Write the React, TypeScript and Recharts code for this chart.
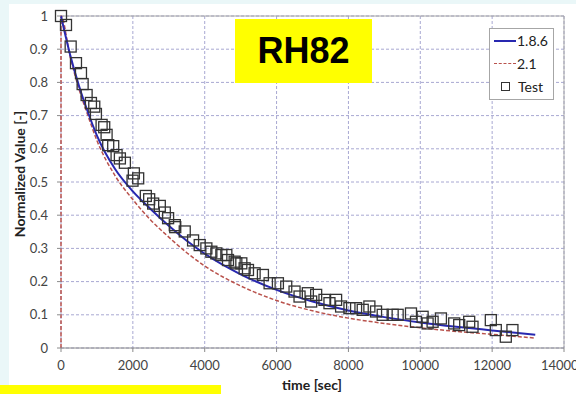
import { CartesianGrid, ComposedChart, Line, ReferenceLine, Scatter, XAxis, YAxis } from 'recharts';

const xTicks = [0, 2000, 4000, 6000, 8000, 10000, 12000, 14000];
const yTicks = [0, 0.1, 0.2, 0.3, 0.4, 0.5, 0.6, 0.7, 0.8, 0.9, 1];

const seriesNames = ['1.8.6', '2.1', 'Test'];

// model curves
const modelTime = [0, 250, 500, 750, 1000, 1500, 2000, 2500, 3000, 3500, 4000, 5000, 6000, 7000, 8000, 9000, 10000, 11000, 12000, 13200];
const v186 = [1.0, 0.885, 0.79, 0.71, 0.64, 0.54, 0.472, 0.418, 0.368, 0.323, 0.284, 0.222, 0.175, 0.14, 0.113, 0.093, 0.077, 0.064, 0.053, 0.04];
const v21 = [1.0, 0.88, 0.78, 0.7, 0.625, 0.52, 0.447, 0.385, 0.334, 0.287, 0.247, 0.187, 0.143, 0.112, 0.09, 0.074, 0.061, 0.05, 0.041, 0.03];

// test points
const testTime = [
  0, 139, 269, 417, 556, 602, 713, 833, 926, 972, 1130, 1203, 1269, 1314, 1453, 1547, 1639, 1778,
  1991, 2028, 2148, 2361, 2454, 2565, 2750, 2889, 2981, 3167, 3180, 3444, 3676, 3861, 4046, 4185,
  4324, 4463, 4602, 4648, 4833, 4880, 5019, 5111, 5204, 5389, 5620, 5806, 6037, 6269, 6500, 6639,
  6870, 6963, 7102, 7333, 7472, 7657, 7796, 8028, 8213, 8398, 8583, 8769, 8954, 9231, 9370, 9741,
  9880, 10065, 10204, 10343, 10574, 10944, 11083, 11361, 11454, 11963, 12102, 12380, 12565,
];
const testValue = [
  1.0, 0.973, 0.908, 0.858, 0.828, 0.795, 0.762, 0.738, 0.727, 0.705, 0.672, 0.665, 0.642, 0.611, 0.608, 0.581, 0.571, 0.558,
  0.504, 0.526, 0.511, 0.458, 0.448, 0.435, 0.428, 0.408, 0.391, 0.37, 0.364, 0.351, 0.324, 0.31, 0.3, 0.29,
  0.285, 0.28, 0.28, 0.265, 0.26, 0.255, 0.255, 0.24, 0.235, 0.225, 0.22, 0.195, 0.195, 0.185, 0.17, 0.155,
  0.165, 0.14, 0.16, 0.145, 0.135, 0.145, 0.125, 0.12, 0.12, 0.115, 0.125, 0.11, 0.1, 0.1, 0.1, 0.104,
  0.079, 0.094, 0.074, 0.079, 0.089, 0.074, 0.069, 0.079, 0.064, 0.084, 0.054, 0.034, 0.054,
];

const data186 = modelTime.map((t, i) => ({ t, v: v186[i] }));
const data21 = [{ t: 0, v: 0 }, ...modelTime.map((t, i) => ({ t, v: v21[i] }))];
const dataTest = testTime.map((t, i) => ({ t, v: testValue[i] }));

const font = 'Lato, "Open Sans", sans-serif';
const BLUE = '#2828b0';
const RED = '#b9524c';

const Square = (p: any) => (
  <rect x={p.cx - 5.5} y={p.cy - 5.5} width={11} height={11} fill="none" stroke="#333" strokeWidth={1.3} />
);

const LegendBox = () => (
  <div
    style={{
      position: 'absolute', left: 489, top: 28, width: 65, height: 72, background: '#fff', border: '1px solid #a6a6a6',
      fontFamily: font, fontSize: 14, color: '#222', boxSizing: 'border-box', padding: '0 0 0 4px', lineHeight: '23px',
    }}
  >
    <div style={{ display: 'flex', alignItems: 'center' }}>
      <span style={{ width: 22, borderTop: `2px solid ${BLUE}`, marginRight: 1 }} />
      {seriesNames[0]}
    </div>
    <div style={{ display: 'flex', alignItems: 'center' }}>
      <span style={{ width: 22, borderTop: `1.5px dashed ${RED}`, marginRight: 1 }} />
      {seriesNames[1]}
    </div>
    <div style={{ display: 'flex', alignItems: 'center' }}>
      <span style={{ width: 7, height: 7, border: '1px solid #333', marginLeft: 7, marginRight: 8 }} />
      {seriesNames[2]}
    </div>
  </div>
);

export default function App() {
  return (
    <div style={{ position: 'relative', width: 576, height: 394, background: '#eaf7f8', overflow: 'hidden' }}>
      <style>{`body{margin:0}`}</style>
      <div style={{ position: 'absolute', left: 9, top: 4, right: 0, bottom: 0, background: '#fff' }} />
      <div style={{ position: 'absolute', left: 0, top: 385, width: 221, height: 9, background: '#ffff00' }} />
      <ComposedChart
        width={576}
        height={394}
        margin={{ top: 16, right: 12, bottom: 10, left: 0 }}
        style={{ position: 'absolute', left: 0, top: 0 }}
      >
        <CartesianGrid stroke="#a8a8d2" strokeDasharray="3 2" />
        <XAxis
          type="number"
          dataKey="t"
          domain={[0, 14000]}
          ticks={xTicks}
          height={36}
          tickSize={4}
          tickMargin={9}
          tick={{ fontSize: 13, fill: '#444', fontFamily: font }}
          stroke="#8a8a8a"
          label={{
            content: () => (
              <text x={312} y={390} textAnchor="middle" fontFamily={font} fontWeight="bold" fontSize={14} fill="#222">
                time [sec]
              </text>
            ),
          }}
        />
        <YAxis
          type="number"
          dataKey="v"
          domain={[0, 1]}
          ticks={yTicks}
          width={61}
          tickSize={4}
          tickMargin={9}
          axisLine={false}
          tickFormatter={(v: number) => String(Math.round(v * 10) / 10)}
          tick={{ fontSize: 13, fill: '#444', fontFamily: font }}
          stroke="#8a8a8a"
          label={{
            content: () => (
              <text
                x={19}
                y={174}
                transform="rotate(-90 19 174)"
                textAnchor="middle"
                dominantBaseline="central"
                fontFamily={font}
                fontWeight="bold"
                fontSize={14}
                fill="#222"
              >
                Normalized Value [-]
              </text>
            ),
          }}
        />
        <ReferenceLine y={1} stroke="#a6a6a6" strokeWidth={1} />
        <ReferenceLine x={14000} stroke="#a6a6a6" strokeWidth={1} />
        <Scatter name={seriesNames[2]} data={dataTest} dataKey="v" shape={Square} isAnimationActive={false} />
        <Line name={seriesNames[1]} data={data21} dataKey="v" type="monotone" stroke={RED} strokeWidth={1.5} strokeDasharray="4 2" dot={false} isAnimationActive={false} />
        <Line name={seriesNames[0]} data={data186} dataKey="v" type="monotone" stroke={BLUE} strokeWidth={2} dot={false} isAnimationActive={false} />
      </ComposedChart>
      <LegendBox />
      <div
        style={{
          position: 'absolute', left: 235, top: 19, width: 137, height: 64, background: '#ffff00',
          display: 'flex', alignItems: 'center', justifyContent: 'center',
          fontFamily: '"Liberation Sans", Arial, sans-serif', fontWeight: 'bold', fontSize: 36, color: '#000',
        }}
      >
        RH82
      </div>
    </div>
  );
}
